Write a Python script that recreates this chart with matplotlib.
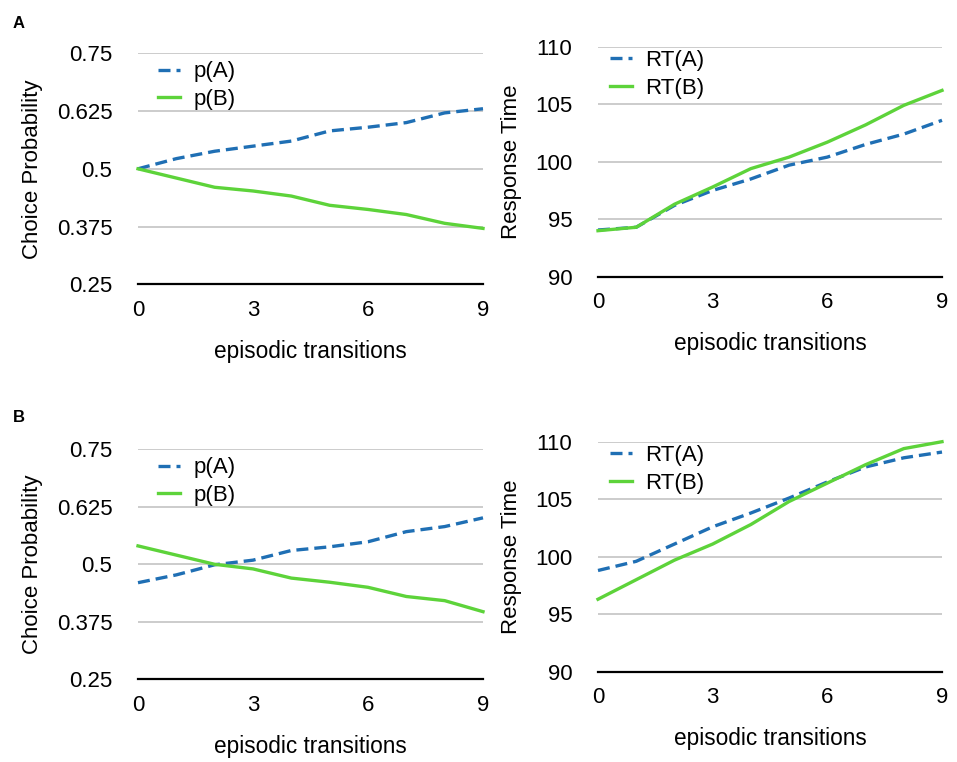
import matplotlib
matplotlib.use("Agg")
import matplotlib.pyplot as plt

# episodic transitions on x
steps = list(range(10))

# panel A
pA_a = [0.500, 0.522, 0.538, 0.549, 0.560, 0.582, 0.590, 0.600, 0.621, 0.630]
pB_a = [0.500, 0.480, 0.460, 0.452, 0.441, 0.421, 0.412, 0.401, 0.382, 0.371]
rtA_a = [94.06, 94.3, 96.2, 97.5, 98.5, 99.7, 100.4, 101.5, 102.4, 103.6]
rtB_a = [94.0, 94.3, 96.3, 97.8, 99.4, 100.4, 101.7, 103.2, 104.9, 106.2]

# panel B
pA_b = [0.460, 0.477, 0.499, 0.509, 0.530, 0.538, 0.549, 0.571, 0.582, 0.601]
pB_b = [0.540, 0.520, 0.500, 0.490, 0.470, 0.461, 0.450, 0.430, 0.421, 0.397]
rtA_b = [98.8, 99.6, 101.1, 102.6, 103.8, 105.1, 106.5, 107.8, 108.6, 109.1]
rtB_b = [96.3, 98.0, 99.7, 101.1, 102.8, 104.8, 106.4, 108.0, 109.4, 110.0]

prob_ticks = [0.25, 0.375, 0.5, 0.625, 0.75]
prob_labels = ["0.25", "0.375", "0.5", "0.625", "0.75"]
rt_ticks = [90, 95, 100, 105, 110]
x_ticks = [0, 3, 6, 9]

BLUE = "#1f6fb4"
GREEN = "#5dd33a"

plt.rcParams['font.family'] = ['Liberation Sans', 'DejaVu Sans']

fig = plt.figure(figsize=(9.57, 7.62), dpi=100)
W, H = 957.0, 762.0


def make_axes(x0, y0, x1, y1):
    return fig.add_axes([x0 / W, 1 - y1 / H, (x1 - x0) / W, (y1 - y0) / H])


def style(ax, yticks, ylabels, ylim, ylabel, ylab_x):
    ax.set_xlim(0, 9)
    ax.set_ylim(*ylim)
    ax.set_xticks(x_ticks)
    ax.set_yticks(yticks)
    ax.set_yticklabels(ylabels)
    for s in ["top", "right", "left"]:
        ax.spines[s].set_visible(False)
    ax.spines["bottom"].set_linewidth(1.6)
    ax.spines["bottom"].set_color("black")
    ax.spines["bottom"].set_zorder(5)
    ax.tick_params(axis="both", length=0, labelsize=16)
    ax.tick_params(axis="y", pad=18.5)
    ax.tick_params(axis="x", pad=11)
    ax.grid(axis="y", color="#c8c8c8", linewidth=1.3)
    ax.set_axisbelow(True)
    ax.set_xlabel("episodic transitions", fontsize=16.3)
    ax.xaxis.set_label_coords(0.5, -0.24)
    ax.set_ylabel(ylabel, fontsize=16)
    ax.yaxis.set_label_coords(ylab_x, 0.5)


def draw(ax, a, b, names, anchor):
    ax.plot(steps, a, color=BLUE, linewidth=2.4, dashes=(3.6, 1.8), label=names[0],
            clip_on=False)
    ax.plot(steps, b, color=GREEN, linewidth=2.4, label=names[1], clip_on=False)
    ax.legend(loc="upper left", bbox_to_anchor=anchor, frameon=False,
              fontsize=16, handlelength=1.0, handletextpad=0.6,
              borderpad=0, borderaxespad=0, labelspacing=0.3)


# row A
ax1 = make_axes(138, 53.3, 483, 284.3)
draw(ax1, pA_a, pB_a, ["p(A)", "p(B)"], (0.058, 0.965))
style(ax1, prob_ticks, prob_labels, (0.25, 0.75), "Choice Probability", -0.275)

ax2 = make_axes(598, 46.7, 942, 276.7)
draw(ax2, rtA_a, rtB_a, ["RT(A)", "RT(B)"], (0.035, 0.985))
style(ax2, rt_ticks, [str(t) for t in rt_ticks], (90, 110), "Response Time", -0.22)

# row B
ax3 = make_axes(138, 449.3, 483, 679.3)
draw(ax3, pA_b, pB_b, ["p(A)", "p(B)"], (0.058, 0.965))
style(ax3, prob_ticks, prob_labels, (0.25, 0.75), "Choice Probability", -0.275)

ax4 = make_axes(598, 441.7, 942, 671.7)
draw(ax4, rtA_b, rtB_b, ["RT(A)", "RT(B)"], (0.035, 0.985))
style(ax4, rt_ticks, [str(t) for t in rt_ticks], (90, 110), "Response Time", -0.22)

fig.text(19 / W, 1 - 23 / H, "A", fontsize=12, fontweight="bold", ha="center", va="center")
fig.text(19 / W, 1 - 418 / H, "B", fontsize=12, fontweight="bold", ha="center", va="center")

fig.savefig("out.png", dpi=100)
